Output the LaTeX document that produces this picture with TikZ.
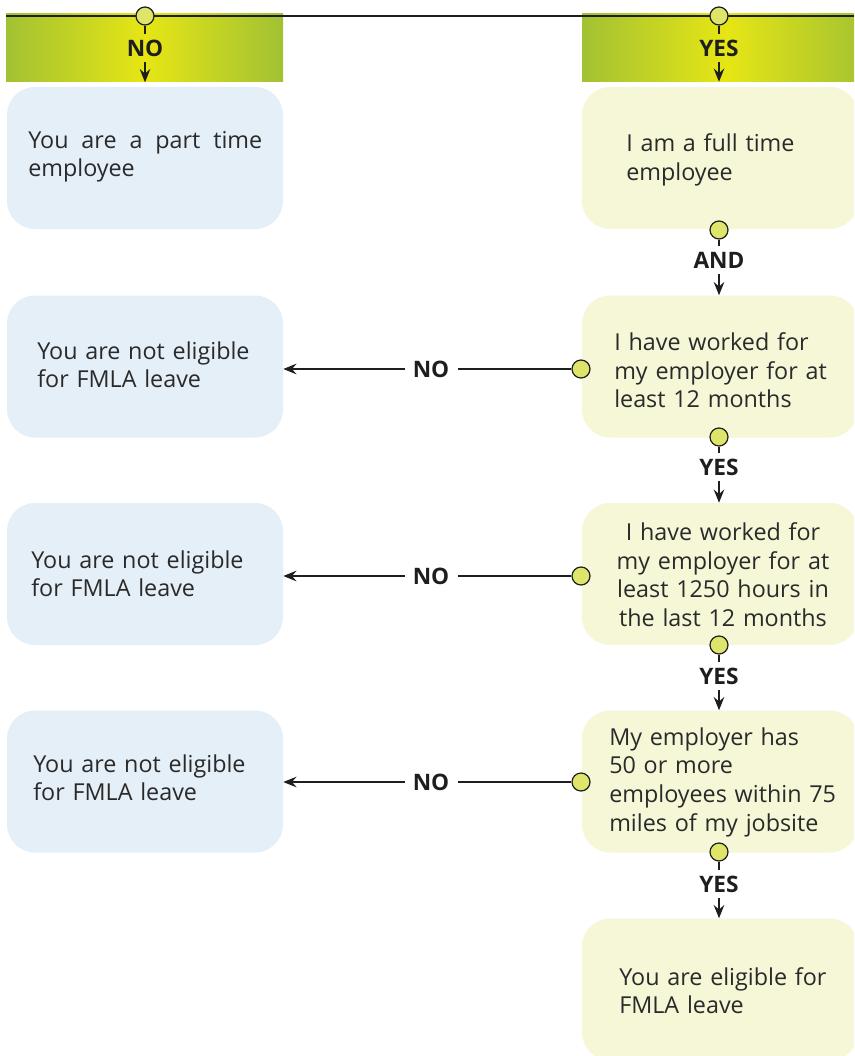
\documentclass[tikz,border=0pt]{standalone}
\usepackage{fontspec}
\setmainfont{Open Sans}
\usetikzlibrary{arrows.meta}
\definecolor{txt}{HTML}{2A2A2A}
\definecolor{dk}{HTML}{1E1E1E}
\definecolor{lblue}{HTML}{E4EFF7}
\definecolor{lyel}{HTML}{F5F7D7}
\definecolor{hgreen}{HTML}{A2C133}
\definecolor{hyel}{HTML}{E6E614}
\definecolor{dotc}{HTML}{DFE46A}
\begin{document}
\begin{tikzpicture}[x=0.75pt,y=-0.75pt,
  leftbox/.style={rectangle, rounded corners=21pt, fill=lblue, minimum width=207pt, minimum height=106.5pt, inner sep=0pt},
  rightbox/.style={rectangle, rounded corners=21pt, fill=lyel, minimum width=207pt, minimum height=106.5pt, inner sep=0pt},
  hdr/.style={rectangle, left color=hgreen, right color=hgreen, middle color=hyel, inner sep=0pt, minimum height=51pt},
  dot/.style={circle, draw=dk, fill=dotc, line width=0.9pt, minimum size=13.5pt, inner sep=0pt},
  lbl/.style={font=\bfseries\fontsize{17}{20}\selectfont, text=dk, inner xsep=6pt, inner ysep=4pt},
  body/.style={font=\fontsize{17.5}{21.5}\selectfont, text=txt, inner sep=0pt, anchor=base west, align=left, text width=200pt},
  conn/.style={draw=dk, line width=0.85pt},
  arr/.style={draw=dk, line width=0.85pt, -{Stealth[length=10pt,width=8pt,inset=3.5pt]}}
]
\useasboundingbox (0,0) rectangle (854,1056);
\clip (0,0) rectangle (854,1056);

% header bars
\node[hdr, minimum width=207.75pt] (hL) at (144.5,48) {};
\node[hdr, minimum width=216pt] (hR) at (726,47.5) {};

% boxes
\node[leftbox] (l1) at (145,158) {};
\node[leftbox] (l2) at (145,366.5) {};
\node[leftbox] (l3) at (145,574) {};
\node[leftbox] (l4) at (145,781.5) {};
\node[rightbox] (r1) at (720,158) {};
\node[rightbox] (r2) at (720,366.5) {};
\node[rightbox] (r3) at (720,574) {};
\node[rightbox] (r4) at (720,781.5) {};
\node[rightbox] (r5) at (720,989.5) {};

% texts
\node[body] (tl1) at (28,148) {\hbox to 175.5pt{You\hfil are\hfil a\hfil part\hfil time}\\employee};
\node[body] (tl2) at (37,359) {You are not eligible\\for FMLA leave};
\node[body] (tl3) at (31,568) {You are not eligible\\for FMLA leave};
\node[body] (tl4) at (33,772) {You are not eligible\\for FMLA leave};
\node[body] (tr1) at (626,151.5) {I am a full time\\employee};
\node[body] (tr2) at (614,350.5) {I have worked for\\my employer for at\\least 12 months};
\node[body, anchor=base, align=center] (tr3) at (723,540.5) {I have worked for\\my employer for at\\least 1250 hours in\\the last 12 months};
\node[body] (tr4) at (609,745) {My employer has\\50 or more\\employees within 75\\miles of my jobsite};
\node[body] (tr5) at (619,985) {You are eligible for\\FMLA leave};

% top line
\coordinate (tla) at (6,16);
\coordinate (tlb) at (854,16);
\draw[conn] (tla) -- (tlb);

% top branches
\node[dot] (d0) at (145,16) {};
\node[lbl] (n0) at (145,48) {NO};
\draw[conn] (d0) -- (n0);
\draw[arr] (n0) -- (n0 |- hL.south);
\node[dot] (d1) at (719,16) {};
\node[lbl] (y0) at (719,48) {YES};
\draw[conn] (d1) -- (y0);
\draw[arr] (y0) -- (y0 |- hR.south);

% vertical chain
\node[dot] (c1) at (719,230) {};
\node[lbl] (and1) at (719,260) {AND};
\draw[conn] (c1) -- (and1);
\draw[arr] (and1) -- (and1 |- r2.north);

\node[dot] (c2) at (719,437) {};
\node[lbl] (y2) at (719,467) {YES};
\draw[conn] (c2) -- (y2);
\draw[arr] (y2) -- (y2 |- r3.north);

\node[dot] (c3) at (719,645) {};
\node[lbl] (y3) at (719,676) {YES};
\draw[conn] (c3) -- (y3);
\draw[arr] (y3) -- (y3 |- r4.north);

\node[dot] (c4) at (719,852) {};
\node[lbl] (y4) at (719,884) {YES};
\draw[conn] (c4) -- (y4);
\draw[arr] (y4) -- (y4 |- r5.north);

% horizontal NO branches
\node[dot] (h1) at (581,369) {};
\node[lbl] (nh1) at (431,369) {NO};
\draw[conn] (h1) -- (nh1);
\draw[arr] (nh1) -- (nh1 -| l2.east);

\node[dot] (h2) at (581,576) {};
\node[lbl] (nh2) at (431,576) {NO};
\draw[conn] (h2) -- (nh2);
\draw[arr] (nh2) -- (nh2 -| l3.east);

\node[dot] (h3) at (581,782) {};
\node[lbl] (nh3) at (431,782) {NO};
\draw[conn] (h3) -- (nh3);
\draw[arr] (nh3) -- (nh3 -| l4.east);
\end{tikzpicture}
\end{document}
